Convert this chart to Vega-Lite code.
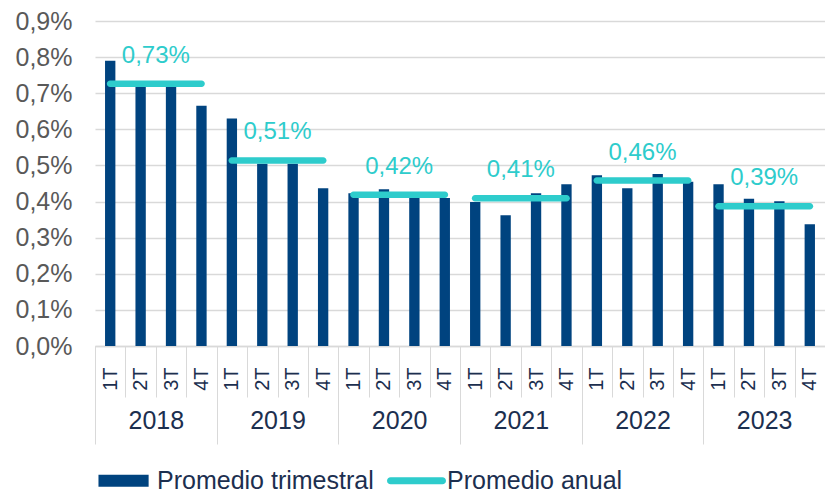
{
  "$schema": "https://vega.github.io/schema/vega-lite/v6.json",
  "width": 730,
  "height": 325,
  "autosize": {"type": "none"},
  "padding": {"left": 95, "top": 21, "right": 0, "bottom": 148},
  "background": "white",
  "config": {
    "view": {"stroke": null},
    "font": "Liberation Sans",
    "axisX": {"grid": false, "title": null, "labelFont": "Liberation Sans", "tickColor": "#D9D9D9", "domainColor": "#D9D9D9", "labelColor": "#1C2F4F", "labelOverlap": false}
  },
  "datasets": {
    "trimestral": [
      {"key": "2018-1T", "v": 0.79}, {"key": "2018-2T", "v": 0.725}, {"key": "2018-3T", "v": 0.725}, {"key": "2018-4T", "v": 0.665},
      {"key": "2019-1T", "v": 0.63}, {"key": "2019-2T", "v": 0.505}, {"key": "2019-3T", "v": 0.505}, {"key": "2019-4T", "v": 0.437},
      {"key": "2020-1T", "v": 0.423}, {"key": "2020-2T", "v": 0.434}, {"key": "2020-3T", "v": 0.41}, {"key": "2020-4T", "v": 0.41},
      {"key": "2021-1T", "v": 0.399}, {"key": "2021-2T", "v": 0.362}, {"key": "2021-3T", "v": 0.423}, {"key": "2021-4T", "v": 0.448},
      {"key": "2022-1T", "v": 0.473}, {"key": "2022-2T", "v": 0.437}, {"key": "2022-3T", "v": 0.476}, {"key": "2022-4T", "v": 0.455},
      {"key": "2023-1T", "v": 0.448}, {"key": "2023-2T", "v": 0.408}, {"key": "2023-3T", "v": 0.401}, {"key": "2023-4T", "v": 0.337}
    ],
    "anual": [
      {"year": "2018", "v": 0.726, "label": "0,73%"},
      {"year": "2019", "v": 0.514, "label": "0,51%"},
      {"year": "2020", "v": 0.419, "label": "0,42%"},
      {"year": "2021", "v": 0.409, "label": "0,41%"},
      {"year": "2022", "v": 0.458, "label": "0,46%"},
      {"year": "2023", "v": 0.387, "label": "0,39%"}
    ]
  },
  "resolve": {"scale": {"x": "independent"}},
  "encoding": {
    "y": {
      "field": "v",
      "type": "quantitative",
      "scale": {"domain": [0, 0.9], "nice": false},
      "axis": {
        "title": null,
        "values": [0, 0.1, 0.2, 0.3, 0.4, 0.5, 0.6, 0.7, 0.8, 0.9],
        "grid": true,
        "gridColor": "#D9D9D9",
        "gridWidth": 1.5,
        "domain": false,
        "ticks": false,
        "labelPadding": 23,
        "labelFontSize": 25,
        "labelColor": "#595959",
        "labelFont": "Liberation Sans",
        "labelExpr": "replace(format(datum.value, '.1f'), '.', ',') + '%'"
      }
    }
  },
  "layer": [
    {
      "data": {"name": "trimestral"},
      "mark": {"type": "bar", "width": {"band": 0.34}},
      "encoding": {
        "x": {
          "field": "key",
          "type": "nominal",
          "scale": {"paddingInner": 0, "paddingOuter": 0},
          "axis": {
            "orient": "bottom",
            "tickBand": "extent",
            "ticks": true,
            "tickSize": 51,
            "tickWidth": 1,
            "domain": true,
            "domainWidth": 1.5,
            "labelExpr": "isValid(datum.value) ? slice(datum.value, 5) : ''",
            "labelAngle": -90,
            "labelAlign": "right",
            "labelBaseline": "middle",
            "labelPadding": -30,
            "labelFontSize": 20
          }
        },
        "color": {
          "datum": "Promedio trimestral",
          "type": "nominal",
          "scale": {"domain": ["Promedio trimestral", "Promedio anual"], "range": ["#00437F", "#2ECCCC"]},
          "legend": {
            "title": null,
            "orient": "none",
            "legendX": 2,
            "legendY": 430,
            "direction": "horizontal",
            "padding": 0,
            "symbolSize": 3481,
            "symbolStrokeWidth": 0,
            "labelFontSize": 25,
            "labelFont": "Liberation Sans",
            "labelColor": "#1C2F4F",
            "labelLimit": 400,
            "labelOffset": 1,
            "columnPadding": 12,
            "encode": {
              "symbols": {
                "update": {
                  "shape": {"signal": "datum.value === 'Promedio anual' ? 'M-0.88,-0.12H0.88A0.12,0.12 0 0 1 0.88,0.12H-0.88A0.12,0.12 0 0 1 -0.88,-0.12Z' : 'M-0.95,-0.2H0.75V0.2H-0.95Z'"}
                }
              }
            }
          }
        }
      }
    },
    {
      "data": {"name": "anual"},
      "encoding": {
        "x": {
          "field": "year",
          "type": "nominal",
          "scale": {"paddingInner": 0, "paddingOuter": 0},
          "axis": {
            "orient": "bottom",
            "tickBand": "extent",
            "ticks": true,
            "tickSize": 98,
            "tickWidth": 1,
            "domain": false,
            "labelExpr": "isValid(datum.value) ? datum.value : ''",
            "labelAngle": 0,
            "labelAlign": "center",
            "labelBaseline": "middle",
            "labelPadding": -24,
            "labelFontSize": 25
          }
        }
      },
      "layer": [
        {
          "mark": {"type": "tick", "orient": "horizontal", "thickness": 6.5, "size": 98, "cornerRadius": 3.25, "color": "#2ECCCC", "opacity": 1}
        },
        {
          "mark": {"type": "text", "dy": -28, "fontSize": 24, "color": "#2ECCCC", "font": "Liberation Sans"},
          "encoding": {"text": {"field": "label"}}
        }
      ]
    }
  ]
}
